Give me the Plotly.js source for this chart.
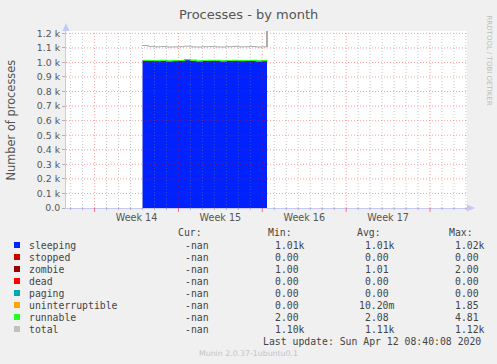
<!DOCTYPE html>
<html>
<head>
<meta charset="utf-8">
<script src="https://cdn.plot.ly/plotly-3.0.1.min.js"></script>
<style>
html,body{margin:0;padding:0;background:#f0f0f0;}
#chart{width:497px;height:364px;}
</style>
</head>
<body>
<div id="chart"></div>
<script>
// ---------------- DATA ----------------
// time in days since Monday of Week 14
const times = [4.0, 4.5, 5.0, 5.5, 6.0, 6.5, 7.0, 7.5, 8.0, 8.5, 9.0, 9.5, 10.0, 10.5, 11.0, 11.5, 12.0, 12.5, 13.0, 13.5, 14.0, 14.39];
const sleeping = [1012, 1010, 1009, 1011, 1008, 1009, 1010, 1016, 1009, 1008, 1010, 1011, 1009, 1008, 1010, 1012, 1009, 1010, 1011, 1008, 1009, 1010];
const stopped = [0, 0, 0, 0, 0, 0, 0, 0, 0, 0, 0, 0, 0, 0, 0, 0, 0, 0, 0, 0, 0, 0];
const zombie = [1, 1, 1, 1, 1, 1, 1, 1, 2, 1, 1, 1, 1, 1, 1, 1, 1, 1, 1, 1, 1, 1];
const dead = [0, 0, 0, 0, 0, 0, 0, 0, 0, 0, 0, 0, 0, 0, 0, 0, 0, 0, 0, 0, 0, 0];
const paging = [0, 0, 0, 0, 0, 0, 0, 0, 0, 0, 0, 0, 0, 0, 0, 0, 0, 0, 0, 0, 0, 0];
const uninterruptible = [0, 0, 0, 0, 0, 0, 0, 0, 0, 0, 0, 0, 1.85, 0, 0, 0, 0, 0, 0, 0, 0, 0];
const runnable = [2, 2, 2.1, 2, 2, 2.2, 2, 2, 4.81, 2, 2, 2.1, 2, 2, 2, 2, 2.1, 2, 2, 2, 2, 2];
const total = [1116, 1110, 1107, 1109, 1106, 1107, 1108, 1112, 1107, 1106, 1108, 1109, 1107, 1106, 1108, 1110, 1107, 1108, 1109, 1106, 1107, 1108];

const seriesNames = ['sleeping', 'stopped', 'zombie', 'dead', 'paging', 'uninterruptible', 'runnable', 'total'];
const seriesColors = ['#0022ff', '#cc0000', '#990000', '#ff0000', '#00aaaa', '#ffa500', '#22ff22', '#c0c0c0'];
const statCur = ['-nan', '-nan', '-nan', '-nan', '-nan', '-nan', '-nan', '-nan'];
const statMin = ['1.01k', '0.00', '1.00', '0.00', '0.00', '0.00', '2.00', '1.10k'];
const statAvg = ['1.01k', '0.00', '1.01', '0.00', '0.00', '10.20m', '2.08', '1.11k'];
const statMax = ['1.02k', '0.00', '2.00', '0.00', '0.00', '1.85', '4.81', '1.12k'];

const weekLabels = ['Week 14', 'Week 15', 'Week 16', 'Week 17'];
const weekLabelPos = [3.5, 10.5, 17.5, 24.5];
const weekStarts = [0, 7, 14, 21, 28];
const yTickVals = [0, 100, 200, 300, 400, 500, 600, 700, 800, 900, 1000, 1100, 1200];
const yTickText = ['0.0', '0.1 k', '0.2 k', '0.3 k', '0.4 k', '0.5 k', '0.6 k', '0.7 k', '0.8 k', '0.9 k', '1.0 k', '1.1 k', '1.2 k'];

// ---------------- GEOMETRY ----------------
const W = 497, H = 364, L = 66, R = 467, T = 31, B = 208;
const X_RANGE = [-2.387, 31.085];
const Y_RANGE = [0, 1215.8];
const px = p => (p - L) / (R - L);
const py = p => (B - p) / (B - T);

const MONO = 'DejaVu Sans Mono';
const SANS = 'DejaVu Sans';
const TXT = '#444';

// ---------------- TRACES ----------------
const stackSeries = [sleeping, stopped, zombie, dead, paging, uninterruptible, runnable];
const traces = stackSeries.map((vals, i) => ({
  type: 'scatter', mode: 'lines', x: times, y: vals,
  stackgroup: 'one', name: seriesNames[i],
  line: {shape: 'hv', width: i === 6 ? 1.2 : 0, color: seriesColors[i]},
  fillcolor: seriesColors[i], hoverinfo: 'skip', showlegend: false
}));
traces.push({
  type: 'scatter', mode: 'lines', x: times, y: total, name: 'total',
  line: {shape: 'hv', width: 1, color: '#a8a8a8'}, hoverinfo: 'skip', showlegend: false
});

// ---------------- SHAPES ----------------
const shapes = [];
const gridGray = 'rgba(128,128,128,0.45)';
const gridRed = 'rgba(255,0,0,0.38)';
// vertical daily grid
for (let d = Math.ceil(X_RANGE[0]); d <= Math.floor(X_RANGE[1]); d++) {
  const isWeek = weekStarts.includes(d);
  shapes.push({type: 'line', xref: 'x', yref: 'paper', x0: d, x1: d, y0: 0, y1: 1, layer: 'above',
    line: {color: isWeek ? gridRed : gridGray, width: 1, dash: '1px,2px'}});
  shapes.push({type: 'line', xref: 'x', yref: 'paper', x0: d, x1: d, y0: 0, y1: isWeek ? py(212) : py(210), layer: 'above',
    line: {color: isWeek ? 'rgba(255,0,0,0.5)' : 'rgba(128,128,128,0.5)', width: 1}});
}
// horizontal grid
yTickVals.forEach(v => {
  if (v === 0) return;
  shapes.push({type: 'line', xref: 'paper', yref: 'y', x0: 0, x1: 1, y0: v, y1: v, layer: 'above',
    line: {color: gridRed, width: 1, dash: '1px,2px'}});
});
// vertical line at end of data
shapes.push({type: 'line', xref: 'x', yref: 'y', x0: times[times.length - 1], x1: times[times.length - 1],
  y0: total[total.length - 1], y1: Y_RANGE[1], layer: 'above', line: {color: '#909090', width: 1.5}});
// axis arrows
const axisCol = '#c8c8f4';
shapes.push({type: 'path', xref: 'paper', yref: 'paper', fillcolor: axisCol, line: {width: 0},
  path: `M ${px(66)},${py(23)} L ${px(62.5)},${py(31)} L ${px(69.5)},${py(31)} Z`});
shapes.push({type: 'path', xref: 'paper', yref: 'paper', fillcolor: axisCol, line: {width: 0},
  path: `M ${px(475)},${py(208)} L ${px(467)},${py(204.5)} L ${px(467)},${py(211.5)} Z`});
// legend squares
const rowY = [245, 257, 269, 281, 293, 305, 317, 329];
seriesNames.forEach((n, i) => {
  shapes.push({type: 'rect', xref: 'paper', yref: 'paper', x0: px(14), x1: px(20), y0: py(rowY[i] + 3), y1: py(rowY[i] - 3),
    fillcolor: seriesColors[i], line: {width: 0}});
});

// ---------------- ANNOTATIONS ----------------
const ann = [];
const a = (text, x, y, opts) => ann.push(Object.assign({text, x: px(x), y: py(y), xref: 'paper', yref: 'paper',
  showarrow: false, xanchor: 'left', yanchor: 'middle', font: {family: MONO, size: 9.8, color: TXT}}, opts || {}));

a('Processes - by month', 248, 14, {xanchor: 'center', font: {family: SANS, size: 13, color: '#555'}});
a('Number of processes', 10.5, 120, {xanchor: 'center', textangle: -90, font: {family: SANS, size: 11.4, color: '#555'}});
a('RRDTOOL / TOBI OETIKER', 488.5, 60, {xanchor: 'center', textangle: 90, font: {family: SANS, size: 7, color: '#bdbdbd'}});

const CW = 5.93;
a('Cur:', 176, 232);
a('Min:', 266, 232);
a('Avg:', 355, 232);
a('Max:', 447, 232);
const numStart = (s, col) => {
  const numLen = s.replace(/[a-zA-Z]$/, '').length;
  return col - (numLen - 4) * CW;
};
seriesNames.forEach((n, i) => {
  a(n, 27, rowY[i]);
  a(statCur[i], 183, rowY[i]);
  a(statMin[i], numStart(statMin[i], 273), rowY[i]);
  a(statAvg[i], numStart(statAvg[i], 363), rowY[i]);
  a(statMax[i], numStart(statMax[i], 453), rowY[i]);
});
a('Last update: Sun Apr 12 08:40:08 2020', 483, 341, {xanchor: 'right'});
a('Munin 2.0.37-1ubuntu0.1', 248, 353, {xanchor: 'center', font: {family: SANS, size: 7.8, color: '#c4c4c4'}});

// ---------------- LAYOUT ----------------
const layout = {
  width: W, height: H,
  margin: {l: L, r: W - R, t: T, b: H - B, pad: 0},
  paper_bgcolor: '#f0f0f0', plot_bgcolor: '#ffffff',
  showlegend: false,
  xaxis: {
    range: X_RANGE, fixedrange: true, showgrid: false, zeroline: false,
    showline: true, linecolor: axisCol, linewidth: 1,
    tickmode: 'array', tickvals: weekLabelPos, ticktext: weekLabels, ticks: '',
    tickfont: {family: SANS, size: 9.6, color: '#555'}
  },
  yaxis: {
    range: Y_RANGE, fixedrange: true, showgrid: false, zeroline: false,
    showline: true, linecolor: axisCol, linewidth: 1,
    tickmode: 'array', tickvals: yTickVals, ticktext: yTickText,
    ticks: 'outside', ticklen: 3, tickcolor: '#b0b0b0',
    tickfont: {family: SANS, size: 9.4, color: '#555'}
  },
  shapes: shapes,
  annotations: ann
};

Plotly.newPlot('chart', traces, layout, {staticPlot: true, displayModeBar: false});
</script>
</body>
</html>
